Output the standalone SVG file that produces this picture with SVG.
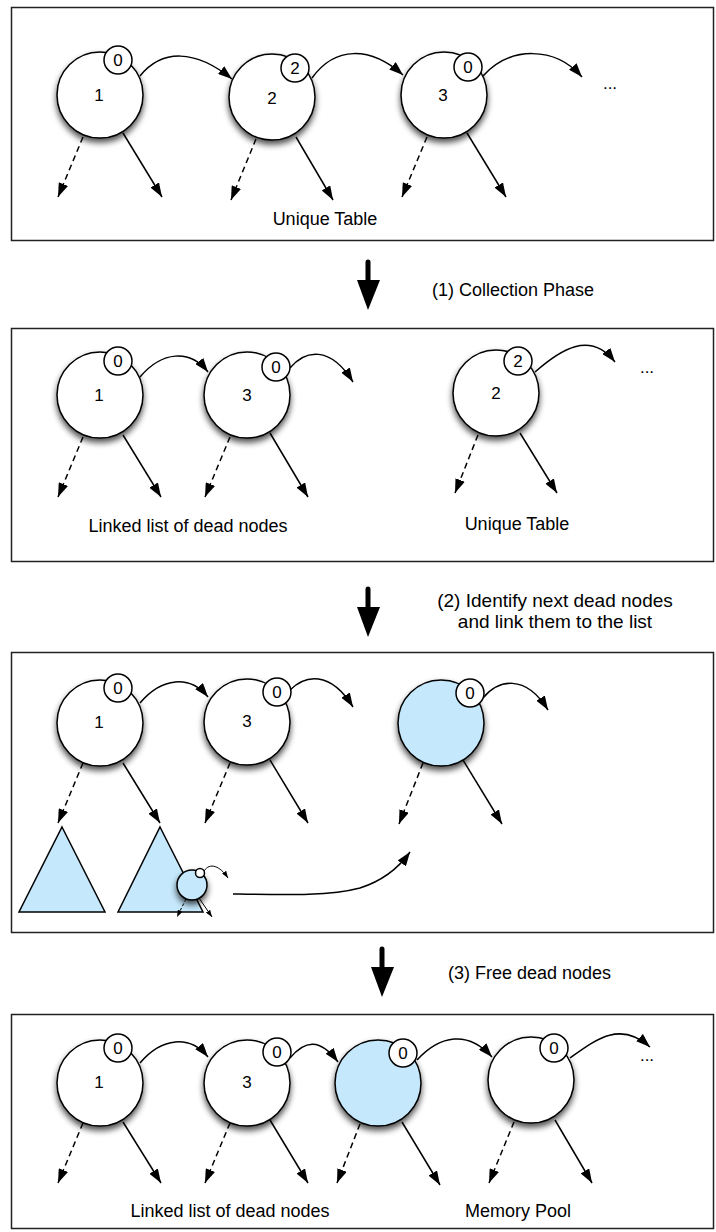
<svg xmlns="http://www.w3.org/2000/svg" width="716" height="1232" viewBox="0 0 716 1232">
<defs>
<filter id="sh" x="-40%" y="-40%" width="180%" height="190%">
<feGaussianBlur in="SourceAlpha" stdDeviation="3"/>
<feOffset dx="0" dy="4"/>
<feComponentTransfer><feFuncA type="linear" slope="0.7"/></feComponentTransfer>
<feMerge><feMergeNode/><feMergeNode in="SourceGraphic"/></feMerge>
</filter>
<marker id="ah" markerUnits="userSpaceOnUse" markerWidth="14" markerHeight="10" refX="14" refY="5" orient="auto" viewBox="0 0 14 10"><path d="M0,0 L14,5 L0,10 z" fill="#000"/></marker>
<marker id="ahs" markerUnits="userSpaceOnUse" markerWidth="7" markerHeight="5" refX="7" refY="2.5" orient="auto" viewBox="0 0 7 5"><path d="M0,0 L7,2.5 L0,5 z" fill="#000"/></marker>
</defs>
<style>
.panel{fill:#fff;stroke:#222;stroke-width:1.5}
.n{fill:#fff;stroke:#000;stroke-width:1.5}
.b{fill:#c5e8fc;stroke:#000;stroke-width:1.5}
.c{fill:#fff;stroke:#000;stroke-width:1.5}
.e{fill:none;stroke:#000;stroke-width:1.5;marker-end:url(#ah)}
.es{fill:none;stroke:#000;stroke-width:1;marker-end:url(#ahs)}
.d{stroke-dasharray:6 4}
.ds{stroke-dasharray:3 2}
.big{stroke:#000;stroke-width:5;stroke-linecap:round;fill:none}
.tri{fill:#c5e8fc;stroke:#000;stroke-width:1.5;stroke-linejoin:miter}
text{font-family:"Liberation Sans",Arial,Helvetica,sans-serif;fill:#000}
.t{font-size:18px}
.t2{font-size:19px;text-anchor:middle}
.tm{font-size:18px;text-anchor:middle}
.l{font-size:17px;text-anchor:middle}
</style>
<rect x="0" y="0" width="716" height="1232" fill="#fff"/>

<g id="panels">
<rect class="panel" x="11.5" y="7.5" width="702" height="233"/>
<rect class="panel" x="11.5" y="328.5" width="702" height="233"/>
<rect class="panel" x="11.5" y="652.5" width="702" height="280"/>
<rect class="panel" x="11.5" y="1014.5" width="702" height="214"/>
</g>

<g id="steps">
<path class="big" d="M368,262 L368,284"/><polygon points="357,280 380,280 368,310"/>
<text class="t" x="432" y="296">(1) Collection Phase</text>
<path class="big" d="M368,589 L368,611"/><polygon points="357,607 380,607 368,637"/>
<text class="t2" x="555" y="607">(2) Identify next dead nodes</text>
<text class="t2" x="555" y="628">and link them to the list</text>
<path class="big" d="M382,949 L382,971"/><polygon points="371,967 394,967 382,997"/>
<text class="t" x="448" y="979">(3) Free dead nodes</text>
</g>

<g id="labels">
<text class="tm" x="325" y="225">Unique Table</text>
<text class="tm" x="188" y="532">Linked list of dead nodes</text>
<text class="tm" x="517" y="530">Unique Table</text>
<text class="tm" x="230" y="1217">Linked list of dead nodes</text>
<text class="tm" x="518" y="1217">Memory Pool</text>
<text class="l" x="610" y="89">...</text>
<text class="l" x="647" y="373">...</text>
<text class="l" x="647" y="1061">...</text>
</g>

<g id="connectors">
<!-- panel 1 -->
<path class="e" d="M140,76 C162,49 195,49 232,79"/>
<path class="e" d="M312,78 C335,46 370,46 403,75"/>
<path class="e" d="M483,76 C510,46 555,46 582,77"/>
<path class="e d" d="M83,137 L58,197"/>
<path class="e" d="M123,133 L162,197"/>
<path class="e d" d="M256,139 L231,200"/>
<path class="e" d="M296,137 L333,200"/>
<path class="e d" d="M427,137 L402,197"/>
<path class="e" d="M467,133 L506,197"/>
<!-- panel 2 -->
<path class="e" d="M140,377 C162,351 190,349 208,372"/>
<path class="e" d="M290,368 C305,350 330,345 353,382"/>
<path class="e" d="M535,372 C560,350 590,330 615,362"/>
<path class="e d" d="M83,437 L58,497"/>
<path class="e" d="M123,435 L161,497"/>
<path class="e d" d="M230,437 L205,497"/>
<path class="e" d="M270,433 L308,497"/>
<path class="e d" d="M478,435 L455,493"/>
<path class="e" d="M520,433 L557,493"/>
<!-- panel 3 -->
<path class="e" d="M140,703 C162,677 190,675 208,697"/>
<path class="e" d="M290,690 C305,675 330,670 353,707"/>
<path class="e" d="M483,698 C498,680 525,673 548,710"/>
<path class="e d" d="M83,763 L58,823"/>
<path class="e" d="M123,763 L160,823"/>
<path class="e d" d="M230,763 L205,823"/>
<path class="e" d="M270,760 L308,823"/>
<path class="e d" d="M423,763 L399,824"/>
<path class="e" d="M463,760 L502,824"/>
<path class="e" d="M233,894 C290,895 330,896 360,888 C385,880 400,866 410,852"/>
<!-- panel 4 -->
<path class="e" d="M140,1063 C162,1037 190,1035 208,1057"/>
<path class="e" d="M290,1058 C305,1040 320,1038 338,1062"/>
<path class="e" d="M417,1060 C440,1035 468,1030 492,1057"/>
<path class="e" d="M570,1058 C595,1040 620,1020 650,1047"/>
<path class="e d" d="M83,1123 L58,1183"/>
<path class="e" d="M123,1122 L161,1183"/>
<path class="e d" d="M230,1123 L205,1183"/>
<path class="e" d="M270,1120 L308,1183"/>
<path class="e d" d="M360,1124 L337,1183"/>
<path class="e" d="M402,1122 L440,1185"/>
<path class="e d" d="M514,1122 L489,1183"/>
<path class="e" d="M555,1120 L592,1183"/>
</g>

<!-- panel 1 nodes -->
<g id="p1-node1"><circle class="n" cx="100" cy="95" r="43" filter="url(#sh)"/><text class="l" x="99" y="101">1</text><circle class="c" cx="118" cy="60" r="14"/><text class="l" x="118" y="66">0</text></g>
<g id="p1-node2"><circle class="n" cx="272" cy="97" r="43" filter="url(#sh)"/><text class="l" x="272" y="104">2</text><circle class="c" cx="295" cy="68" r="14"/><text class="l" x="295" y="74">2</text></g>
<g id="p1-node3"><circle class="n" cx="444" cy="95" r="43" filter="url(#sh)"/><text class="l" x="443" y="101">3</text><circle class="c" cx="468" cy="67" r="14"/><text class="l" x="468" y="73">0</text></g>

<!-- panel 2 nodes -->
<g id="p2-node1"><circle class="n" cx="100" cy="395" r="43" filter="url(#sh)"/><text class="l" x="99" y="401">1</text><circle class="c" cx="118" cy="361" r="14"/><text class="l" x="118" y="367">0</text></g>
<g id="p2-node3"><circle class="n" cx="247" cy="395" r="43" filter="url(#sh)"/><text class="l" x="247" y="401">3</text><circle class="c" cx="276" cy="367" r="14"/><text class="l" x="276" y="373">0</text></g>
<g id="p2-node2"><circle class="n" cx="496" cy="393" r="43" filter="url(#sh)"/><text class="l" x="496" y="399">2</text><circle class="c" cx="518" cy="361" r="14"/><text class="l" x="518" y="367">2</text></g>

<!-- panel 3 nodes -->
<g id="p3-node1"><circle class="n" cx="100" cy="723" r="43" filter="url(#sh)"/><text class="l" x="99" y="728">1</text><circle class="c" cx="118" cy="688" r="14"/><text class="l" x="118" y="694">0</text></g>
<g id="p3-node3"><circle class="n" cx="247" cy="722" r="43" filter="url(#sh)"/><text class="l" x="247" y="727">3</text><circle class="c" cx="277" cy="692" r="14"/><text class="l" x="277" y="698">0</text></g>
<g id="p3-dead"><circle class="b" cx="441" cy="723" r="43" filter="url(#sh)"/><circle class="c" cx="470" cy="693" r="14"/><text class="l" x="470" y="699">0</text></g>
<g id="p3-tree1"><polygon class="tri" points="62,827 105,912 19,912"/></g>
<g id="p3-tree2"><polygon class="tri" points="160,827 203,912 118,912"/></g>
<g id="p3-small">
<path class="es ds" d="M186,899 L177,917"/>
<path class="es" d="M199,898 L212,917"/>
<path class="es" d="M204,871 C210,862 220,866 228,878"/>
<circle class="b" cx="192" cy="885" r="15" filter="url(#sh)"/>
<circle class="c" cx="200" cy="873" r="4.5" stroke-width="1"/>
</g>

<!-- panel 4 nodes -->
<g id="p4-node1"><circle class="n" cx="100" cy="1083" r="43" filter="url(#sh)"/><text class="l" x="99" y="1088">1</text><circle class="c" cx="118" cy="1048" r="14"/><text class="l" x="118" y="1054">0</text></g>
<g id="p4-node3"><circle class="n" cx="247" cy="1083" r="43" filter="url(#sh)"/><text class="l" x="247" y="1088">3</text><circle class="c" cx="277" cy="1052" r="14"/><text class="l" x="277" y="1058">0</text></g>
<g id="p4-dead"><circle class="b" cx="378" cy="1083" r="43" filter="url(#sh)"/><circle class="c" cx="403" cy="1053" r="14"/><text class="l" x="403" y="1059">0</text></g>
<g id="p4-pool"><circle class="n" cx="531" cy="1080" r="43" filter="url(#sh)"/><circle class="c" cx="554" cy="1048" r="14"/><text class="l" x="554" y="1054">0</text></g>
</svg>
